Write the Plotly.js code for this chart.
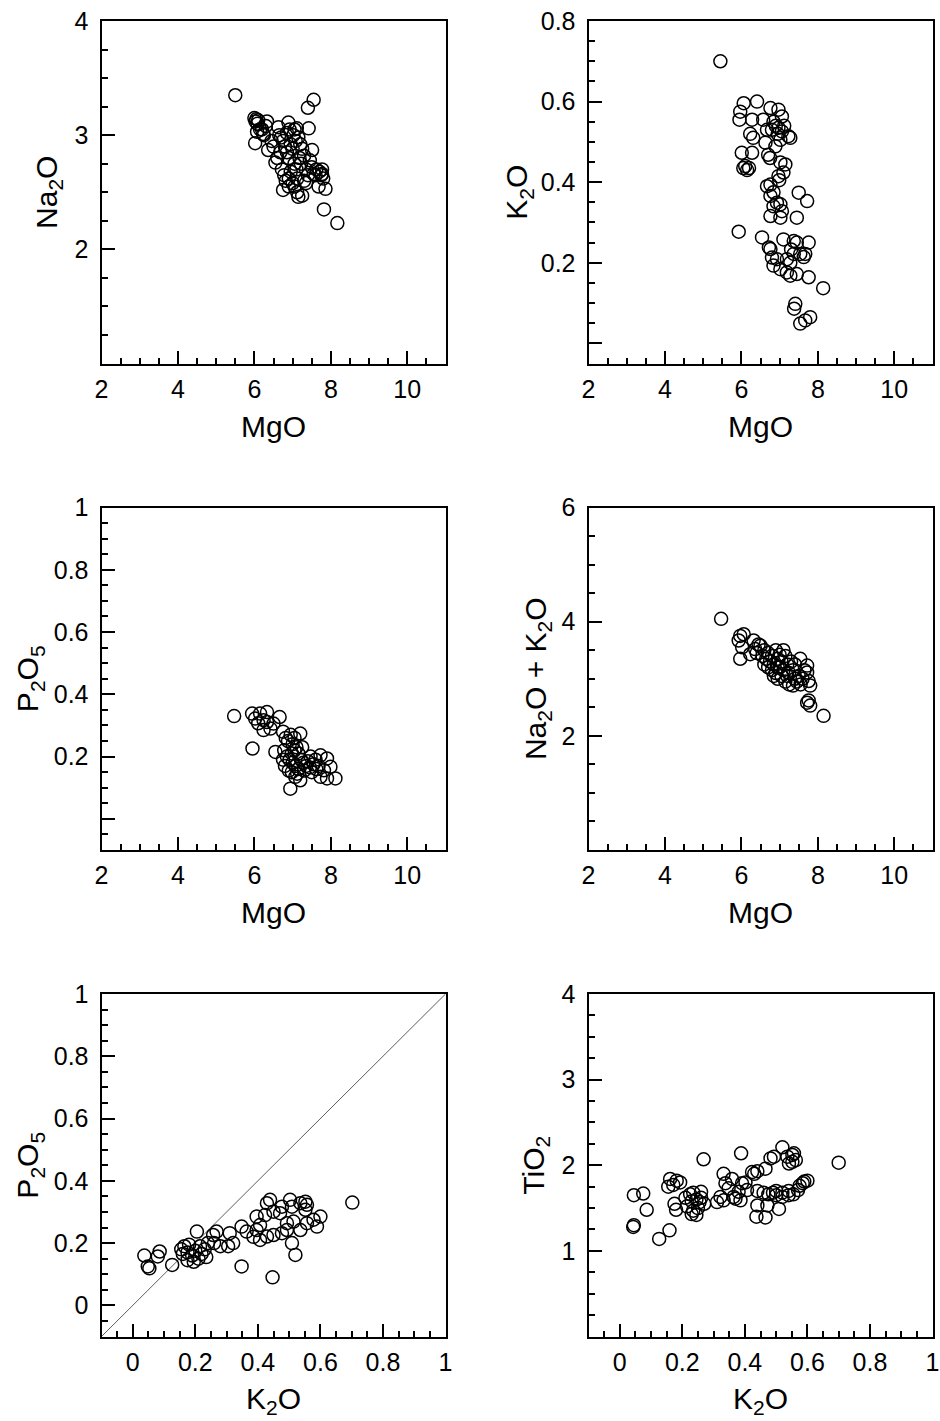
<!DOCTYPE html>
<html>
<head>
<meta charset="utf-8">
<script src="https://cdn.plot.ly/plotly-3.0.1.min.js"></script>
<style>html,body{margin:0;padding:0;background:#fff;}#chart{width:940px;height:1421px;}</style>
</head>
<body>
<div id="chart"></div>
<script>
// Panel 1: Na2O vs MgO
var p1_mgo = [5.50,7.55,7.40,7.42,6.00,6.03,6.05,6.08,6.10,6.33,6.07,6.02,6.36,6.23,6.20,6.89,6.63,7.11,6.75,7.15,7.25,7.82,8.17,7.86,7.68,7.51,7.77,7.77,7.60,6.55,
  6.70,6.75,6.80,6.85,6.90,6.95,7.00,7.05,7.10,6.72,6.78,6.82,6.90,6.95,7.00,7.05,7.12,7.18,7.22,7.25,7.30,7.35,7.40,7.45,7.50,7.55,7.62,7.70,7.75,7.80,
  6.65,6.85,6.92,7.02,7.08,7.15,7.20,7.05,6.60,6.68,7.30,7.35,6.90,7.12,6.15,6.25,6.30,6.45,6.50];
var p1_na2o = [3.35,3.31,3.24,3.06,3.15,3.12,3.14,3.10,3.13,3.12,3.03,2.93,2.87,3.01,3.05,3.11,3.07,3.06,2.52,2.46,2.47,2.35,2.23,2.53,2.55,2.87,2.70,2.66,2.65,2.76,
  2.98,2.95,2.90,2.85,2.80,2.92,2.88,2.75,2.70,2.70,2.65,2.60,2.62,2.68,2.58,2.55,2.62,2.80,2.75,2.88,2.82,2.70,2.65,2.78,2.72,2.66,2.70,2.68,2.65,2.62,
  3.00,3.02,3.05,3.00,2.95,2.98,2.92,3.05,2.80,2.85,2.60,2.58,2.55,2.50,3.05,3.00,3.08,2.95,2.90];

// Panel 2: K2O vs MgO
var p2_mgo = [5.45,6.06,6.41,5.97,5.95,6.28,6.76,6.97,7.06,6.84,6.57,6.23,6.31,6.67,6.80,6.97,7.06,7.23,7.28,6.63,6.89,7.02,6.01,6.28,6.05,6.10,6.15,6.20,6.70,6.75,
  7.02,7.15,7.10,6.76,6.67,6.97,6.99,6.84,6.76,6.93,7.02,6.84,7.06,6.76,7.02,7.45,7.50,7.72,5.93,6.54,6.76,6.72,7.10,7.37,7.45,7.76,7.30,7.37,7.54,7.63,
  7.67,6.80,6.93,7.19,7.28,6.84,7.02,7.19,7.28,7.45,7.76,8.14,7.41,7.38,7.54,7.67,7.80,6.90,6.95,7.12];
var p2_k2o = [0.70,0.596,0.60,0.575,0.555,0.555,0.584,0.58,0.563,0.55,0.555,0.52,0.51,0.53,0.53,0.535,0.526,0.514,0.51,0.498,0.489,0.505,0.473,0.473,0.435,0.44,0.43,0.435,0.468,0.46,
  0.449,0.444,0.424,0.394,0.39,0.415,0.405,0.375,0.366,0.349,0.345,0.34,0.328,0.316,0.312,0.312,0.374,0.353,0.277,0.263,0.234,0.238,0.258,0.254,0.25,0.25,0.233,0.222,0.222,0.214,
  0.222,0.213,0.209,0.209,0.20,0.193,0.184,0.176,0.168,0.172,0.164,0.137,0.098,0.086,0.049,0.057,0.065,0.54,0.52,0.54];

// Panel 3: P2O5 vs MgO
var p3_mgo = [5.47,5.94,6.15,6.33,6.02,6.24,6.10,6.33,6.66,6.50,6.42,6.24,5.95,6.55,7.20,7.73,7.90,7.47,7.73,7.90,8.12,6.94,7.07,7.20,7.99,7.82,
  6.75,6.82,6.88,6.95,7.00,7.05,6.78,6.85,6.92,7.00,7.08,7.15,6.80,6.90,7.10,7.15,7.22,7.28,7.35,7.40,7.45,7.50,7.55,7.60,7.62,7.68,7.05,6.98,7.25,7.30,6.75,7.12,6.98];
var p3_p2o5 = [0.33,0.338,0.338,0.343,0.322,0.317,0.307,0.311,0.327,0.306,0.29,0.285,0.226,0.215,0.274,0.204,0.194,0.20,0.135,0.13,0.13,0.097,0.135,0.124,0.167,0.156,
  0.28,0.26,0.25,0.27,0.24,0.22,0.22,0.20,0.19,0.18,0.17,0.16,0.17,0.155,0.23,0.21,0.19,0.18,0.17,0.185,0.165,0.15,0.175,0.19,0.16,0.17,0.26,0.21,0.23,0.155,0.19,0.145,0.15];

// Panel 4: Na2O + K2O vs MgO
var p4_mgo = [5.47,5.97,6.06,5.93,6.02,5.97,6.32,6.36,6.23,7.54,7.72,7.72,7.76,7.80,7.72,7.80,7.76,8.15,
  6.50,6.60,6.70,6.80,6.90,7.00,6.65,6.75,6.85,6.95,7.05,7.15,6.70,6.80,6.90,7.00,7.10,7.20,7.30,6.85,6.95,7.05,7.15,7.25,7.35,7.40,7.45,7.50,7.55,7.60,7.25,7.35,
  6.60,6.55,6.40,6.45,7.10,7.20,6.95,7.65,7.40];
var p4_alk = [4.05,3.75,3.78,3.67,3.55,3.35,3.67,3.52,3.43,3.35,3.23,3.11,2.96,2.88,2.58,2.53,2.62,2.35,
  3.58,3.50,3.45,3.40,3.50,3.42,3.35,3.30,3.25,3.35,3.30,3.40,3.20,3.15,3.10,3.20,3.15,3.25,3.30,3.05,3.00,3.05,2.95,3.10,3.15,3.00,2.95,3.05,2.90,3.00,2.90,2.88,
  3.25,3.40,3.45,3.60,3.50,3.05,3.20,3.15,3.25];

// Panel 5: P2O5 vs K2O
var p5_k2o = [0.702,0.037,0.086,0.080,0.053,0.048,0.126,0.205,0.257,0.268,0.310,0.305,0.321,0.348,0.348,0.364,0.386,0.396,0.407,0.396,0.423,0.429,0.439,0.450,0.471,0.447,0.407,0.429,0.450,0.477,
  0.493,0.503,0.509,0.477,0.536,0.552,0.557,0.552,0.514,0.493,0.536,0.557,0.578,0.600,0.589,0.509,0.520,
  0.155,0.165,0.175,0.180,0.190,0.200,0.210,0.215,0.220,0.230,0.235,0.175,0.195,0.240,0.160,0.260,0.280];
var p5_p2o5 = [0.33,0.16,0.173,0.157,0.119,0.125,0.13,0.237,0.226,0.237,0.232,0.19,0.20,0.125,0.253,0.237,0.22,0.242,0.258,0.285,0.29,0.328,0.339,0.301,0.296,0.09,0.21,0.221,0.226,0.232,
  0.242,0.339,0.317,0.317,0.328,0.333,0.323,0.307,0.269,0.264,0.242,0.264,0.275,0.285,0.253,0.20,0.162,
  0.18,0.19,0.17,0.195,0.16,0.175,0.15,0.19,0.165,0.18,0.155,0.145,0.14,0.20,0.165,0.20,0.19];
var p5_line_x = [-0.1, 1];
var p5_line_y = [-0.1, 1];

// Panel 6: TiO2 vs K2O
var p6_k2o = [0.70,0.045,0.075,0.086,0.045,0.043,0.126,0.159,0.161,0.182,0.193,0.155,0.171,
  0.175,0.18,0.21,0.23,0.235,0.25,0.245,0.23,0.215,0.26,0.26,0.235,0.27,0.225,0.245,0.255,
  0.268,0.332,0.338,0.359,0.348,0.322,0.311,0.332,0.364,0.38,0.391,0.402,0.407,0.386,0.37,0.388,0.423,0.43,0.44,0.466,
  0.44,0.46,0.475,0.49,0.50,0.52,0.54,0.555,0.57,0.585,0.59,0.575,0.50,0.52,0.54,
  0.44,0.472,0.509,0.437,0.466,
  0.482,0.493,0.52,0.536,0.552,0.557,0.563,0.541,0.552,0.60];
var p6_tio2 = [2.03,1.65,1.67,1.48,1.30,1.28,1.14,1.24,1.84,1.82,1.80,1.75,1.77,
  1.55,1.48,1.62,1.58,1.47,1.50,1.42,1.43,1.52,1.62,1.69,1.68,1.55,1.66,1.60,1.57,
  2.07,1.90,1.79,1.84,1.73,1.63,1.57,1.59,1.63,1.69,1.79,1.80,1.71,1.59,1.61,2.14,1.92,1.90,1.93,1.96,
  1.70,1.68,1.66,1.68,1.70,1.68,1.70,1.66,1.71,1.79,1.81,1.76,1.65,1.63,1.65,
  1.53,1.53,1.49,1.40,1.39,
  2.08,2.10,2.21,2.10,2.12,2.14,2.06,2.02,2.04,1.82];

var FONT = 'Liberation Sans, Arial, sans-serif';
var marker = {symbol:'circle-open', size:13, color:'black', line:{color:'black', width:1.5}};
function pts(x, y, xa, ya) {
  return {type:'scatter', mode:'markers', x:x, y:y, xaxis:xa, yaxis:ya, marker:marker, hoverinfo:'skip'};
}
var traces = [
  pts(p1_mgo, p1_na2o, 'x', 'y'),
  pts(p2_mgo, p2_k2o, 'x2', 'y2'),
  pts(p3_mgo, p3_p2o5, 'x3', 'y3'),
  pts(p4_mgo, p4_alk, 'x4', 'y4'),
  {type:'scatter', mode:'lines', x:p5_line_x, y:p5_line_y, xaxis:'x5', yaxis:'y5', line:{color:'#333', width:0.8}, hoverinfo:'skip'},
  pts(p5_k2o, p5_p2o5, 'x5', 'y5'),
  pts(p6_k2o, p6_tio2, 'x6', 'y6')
];

var W = 940, H = 1421;
var colX = [[101.5, 445.5], [588.5, 932.5]];
var rowY = [[21, 363.5], [507.5, 850], [994, 1336.5]];
function xd(c) { return [colX[c][0]/W, colX[c][1]/W]; }
function yd(r) { return [1 - rowY[r][1]/H, 1 - rowY[r][0]/H]; }

function axisBase(extra) {
  var a = {
    showgrid:false, zeroline:false, showline:true, mirror:true, linecolor:'black', linewidth:2,
    ticks:'inside', ticklen:13, tickwidth:2, tickcolor:'black',
    tickfont:{family:FONT, size:25, color:'black'}, ticklabelstandoff:6,
    tickmode:'array', fixedrange:true
  };
  for (var k in extra) a[k] = extra[k];
  return a;
}
function minor(d) { return {tickmode:'linear', tick0:0, dtick:d, ticks:'inside', ticklen:6, tickwidth:2, tickcolor:'black'}; }
function ttl(t, st) { return {text:t, font:{family:FONT, size:30, color:'black'}, standoff:st}; }

var mgoVals = [2,4,6,8,10];
var mgoText = ['2','4','6','8','10'];
var k2oVals = [0,0.2,0.4,0.6,0.8,1];
var k2oText = ['0','0.2','0.4','0.6','0.8','1'];

function mgoAxis(c, anchor) {
  return axisBase({domain:xd(c), anchor:anchor, range:[2,11], tickvals:mgoVals, ticktext:mgoText, minor:minor(0.5), ticklabelstandoff:2, title:ttl('MgO', 14)});
}
function k2oAxis(c, anchor) {
  return axisBase({domain:xd(c), anchor:anchor, range:[-0.1,1], tickvals:k2oVals, ticktext:k2oText, minor:minor(0.05), ticklabelstandoff:2, title:ttl('K<sub>2</sub>O', 13)});
}

var layout = {
  width:W, height:H, margin:{l:0, r:0, t:0, b:0}, showlegend:false,
  paper_bgcolor:'white', plot_bgcolor:'white', font:{family:FONT, color:'black'},
  xaxis: mgoAxis(0, 'y'),
  yaxis: axisBase({domain:yd(0), anchor:'x', range:[1,4], tickvals:[1,2,3,4], ticktext:['','2','3','4'], minor:minor(0.25), title:ttl('Na<sub>2</sub>O', 8)}),
  xaxis2: mgoAxis(1, 'y2'),
  yaxis2: axisBase({domain:yd(0), anchor:'x2', range:[-0.05,0.8], tickvals:[0,0.2,0.4,0.6,0.8], ticktext:['','0.2','0.4','0.6','0.8'], minor:minor(0.05), title:ttl('K<sub>2</sub>O', 4)}),
  xaxis3: mgoAxis(0, 'y3'),
  yaxis3: axisBase({domain:yd(1), anchor:'x3', range:[-0.1,1], tickvals:[0,0.2,0.4,0.6,0.8,1], ticktext:['','0.2','0.4','0.6','0.8','1'], minor:minor(0.05), title:ttl('P<sub>2</sub>O<sub>5</sub>', 6)}),
  xaxis4: mgoAxis(1, 'y4'),
  yaxis4: axisBase({domain:yd(1), anchor:'x4', range:[0,6], tickvals:[0,2,4,6], ticktext:['','2','4','6'], minor:minor(0.5), title:ttl('Na<sub>2</sub>O + K<sub>2</sub>O', 6)}),
  xaxis5: k2oAxis(0, 'y5'),
  yaxis5: axisBase({domain:yd(2), anchor:'x5', range:[-0.1,1], tickvals:[0,0.2,0.4,0.6,0.8,1], ticktext:['0','0.2','0.4','0.6','0.8','1'], minor:minor(0.05), title:ttl('P<sub>2</sub>O<sub>5</sub>', 6)}),
  xaxis6: k2oAxis(1, 'y6'),
  yaxis6: axisBase({domain:yd(2), anchor:'x6', range:[0,4], tickvals:[0,1,2,3,4], ticktext:['','1','2','3','4'], minor:minor(0.25), title:ttl('TiO<sub>2</sub>', 8)})
};

Plotly.newPlot('chart', traces, layout, {staticPlot:true, displayModeBar:false});
</script>
</body>
</html>
